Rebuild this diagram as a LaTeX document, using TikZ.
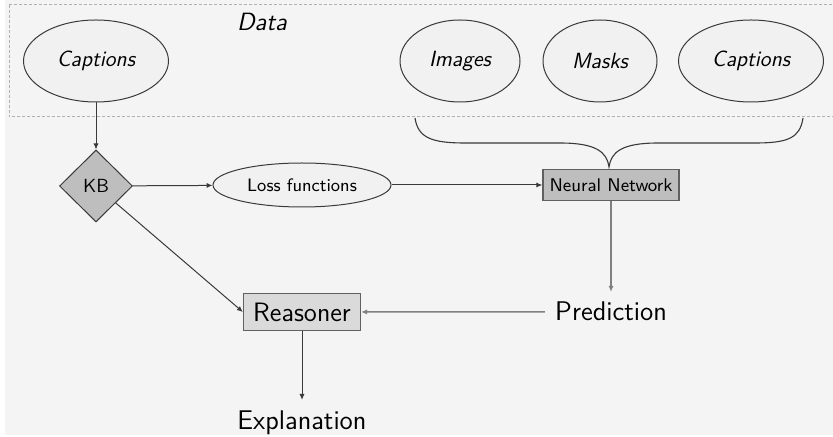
\documentclass[tikz,border=0pt]{standalone}
\usetikzlibrary{shapes.geometric,arrows.meta}
\definecolor{pagebg}{HTML}{F4F4F4}
\definecolor{nodefill}{HTML}{F1F1F1}
\definecolor{darkline}{HTML}{3A3A3A}
\definecolor{grayline}{HTML}{808080}
\definecolor{nnfill}{HTML}{BEBEBE}
\definecolor{rsfill}{HTML}{DADADA}
\definecolor{dashcol}{HTML}{B0B0B0}
\tikzset{
  dataell/.style={ellipse, draw=darkline, fill=nodefill, line width=0.5pt, inner sep=0pt,
    font=\sffamily\itshape\fontsize{11}{13}\selectfont},
  lossell/.style={ellipse, draw=darkline, fill=nodefill, line width=0.5pt, inner sep=0pt,
    font=\sffamily\fontsize{9}{11}\selectfont},
  kbshape/.style={diamond, draw=darkline, fill=nnfill, line width=0.5pt, inner sep=0pt,
    minimum width=36.5pt, minimum height=36pt, font=\sffamily\fontsize{9.5}{11}\selectfont},
  nnbox/.style={rectangle, draw=grayline!75!black, fill=nnfill, line width=0.7pt, inner sep=0pt,
    minimum width=68pt, minimum height=15.5pt, font=\sffamily\fontsize{9.2}{11}\selectfont},
  rsbox/.style={rectangle, draw=grayline!75!black, fill=rsfill, line width=0.6pt, inner sep=0pt,
    minimum width=58.5pt, minimum height=18.5pt, font=\sffamily\fontsize{13.3}{15}\selectfont},
  bigtext/.style={inner sep=5pt, font=\sffamily\fontsize{13.5}{15}\selectfont},
  arr/.style={-{Latex[length=3pt,width=2.6pt]}, line width=0.5pt, draw=darkline},
  grayarr/.style={-{Latex[length=3pt,width=2.6pt]}, line width=0.75pt, draw=grayline},
}
\begin{document}
\begin{tikzpicture}[x=0.5pt,y=-0.5pt]
  % canvas
  \useasboundingbox (0,0) rectangle (833,437);
  \fill[white] (0,0) rectangle (833,437);
  \fill[pagebg] (5,0) rectangle (833,435);

  % data region
  \draw[dashcol, line width=0.5pt, dash pattern=on 1.5pt off 1pt] (9,5) -- (840,5)
      (9,5) -- (9,117) -- (840,117);
  \node[font=\sffamily\itshape\fontsize{12.5}{15}\selectfont] (data) at (262,22) {Data};

  \node[dataell, minimum width=72.5pt, minimum height=41pt] (capL) at (96,61) {Captions};
  \node[dataell, minimum width=60pt, minimum height=41pt] (img) at (460,61) {Images};
  \node[dataell, minimum width=57pt, minimum height=41pt] (mask) at (600,61) {Masks};
  \node[dataell, minimum width=72.5pt, minimum height=41pt] (capR) at (751,61) {Captions};

  % brace gathering the data
  \coordinate (bl) at (415,118);
  \coordinate (br) at (803,118);
  \coordinate (tip) at (609,167);
  \draw[darkline, line width=0.55pt]
    (bl) .. controls (418,138) and (432,143) .. (465,143)
    -- (560,143) .. controls (596,143) and (607,152) .. (tip)
    .. controls (611,152) and (622,143) .. (658,143)
    -- (755,143) .. controls (788,143) and (800,138) .. (br);

  % main nodes
  \node[kbshape] (kb) at (96,186) {KB};
  \node[lossell, minimum width=89pt, minimum height=22pt] (loss) at (302,185) {Loss functions};
  \node[nnbox] (nn) at (611,185) {Neural Network};
  \node[rsbox] (rs) at (302,312) {Reasoner};
  \node[bigtext, anchor=base] (pred) at (611,321) {Prediction};
  \node[bigtext, anchor=base] (expl) at (302,429) {Explanation};

  % connectors
  \draw[arr] (capL) -- (kb);
  \draw[arr] (kb) -- (loss);
  \draw[arr] (loss) -- (nn);
  \draw[arr] (kb) -- (rs.west);
  \draw[grayarr] (nn) -- (pred);
  \draw[grayarr] (pred) -- (rs);
  \draw[arr] (rs) -- (expl);
\end{tikzpicture}
\end{document}
